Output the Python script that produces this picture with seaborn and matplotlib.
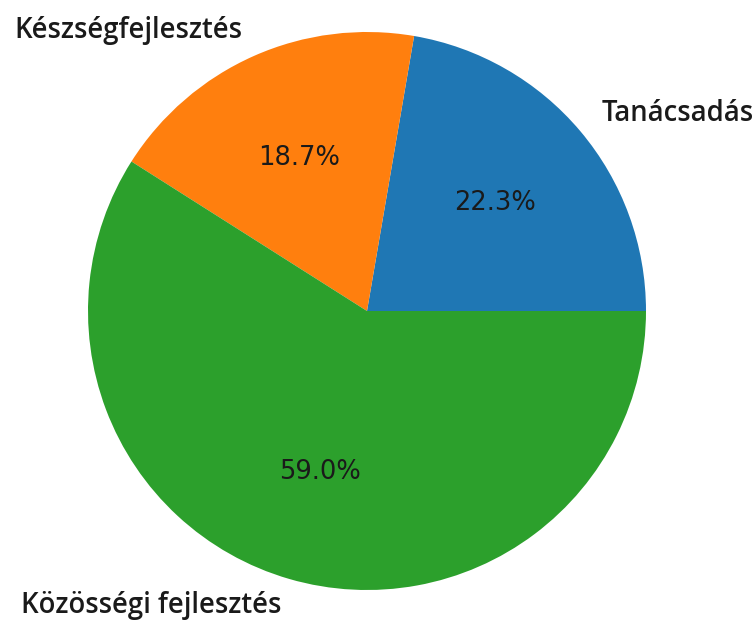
import seaborn as sns
import matplotlib.pyplot as plt

sns.set_theme(style='white')
plt.rcParams['font.family'] = ['DejaVu Sans']

# data
categories = ['Tanácsadás', 'Készségfejlesztés', 'Közösségi fejlesztés']
shares = [22.3, 18.7, 59.0]
colors = sns.color_palette('tab10', 3)

fig = plt.figure(figsize=(7.55, 6.21), dpi=100)
# pie centre ~ (367, 311) px, radius ~ 279 px
ax = fig.add_axes([(367 - 279) / 755, (621 - 311 - 279) / 621, 558 / 755, 558 / 621])

wedges, texts, autotexts = ax.pie(shares, labels=categories, colors=colors,
                                  autopct='%1.1f%%', startangle=0,
                                  wedgeprops={'linewidth': 0})
for t in texts:
    t.set_fontfamily(['Open Sans', 'DejaVu Sans'])
    t.set_fontweight('semibold')
    t.set_fontsize(19.8)
    t.set_color('#1a1a1a')
for t in autotexts:
    t.set_fontfamily(['DejaVu Sans'])
    t.set_fontsize(18.5)
    t.set_color('#1a1a1a')

ax.set_xlim(-1, 1)
ax.set_ylim(-1, 1)
ax.set_aspect('equal')

fig.savefig('out.png', dpi=100)
